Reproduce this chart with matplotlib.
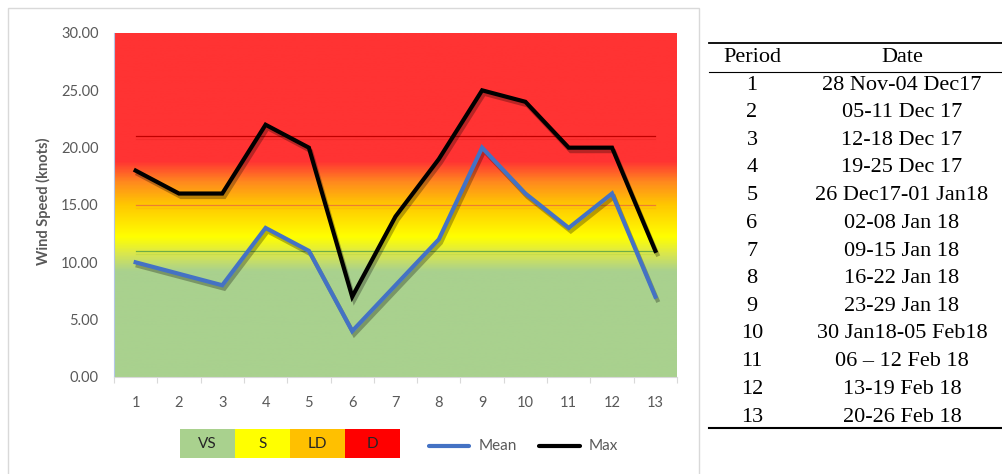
import numpy as np
import matplotlib
matplotlib.use("Agg")
import matplotlib.pyplot as plt
import matplotlib.patheffects as pe
from matplotlib.colors import LinearSegmentedColormap
from matplotlib.patches import Rectangle
from matplotlib.lines import Line2D

periods = list(range(1, 14))
mean_speed = [10, 9, 8, 13, 11, 4, 8, 12, 20, 16, 13, 16, 7]
max_speed = [18, 16, 16, 22, 20, 7, 14, 19, 25, 24, 20, 20, 11]
y_ticks = [0, 5, 10, 15, 20, 25, 30]

# threshold levels drawn across the chart
levels = [11, 15, 21]
level_colors = ["#70AD47", "#ED7D31", "#C00000"]

zone_labels = ["VS", "S", "LD", "D"]
zone_colors = ["#A9D18E", "#FFFF00", "#FFC000", "#FF0000"]

dates = ["28 Nov-04 Dec17", "05-11 Dec 17", "12-18 Dec 17", "19-25 Dec 17",
         "26 Dec17-01 Jan18", "02-08 Jan 18", "09-15 Jan 18", "16-22 Jan 18",
         "23-29 Jan 18", "30 Jan18-05 Feb18", "06 \u2013 12 Feb 18",
         "13-19 Feb 18", "20-26 Feb 18"]

W, H = 1002, 474
fig = plt.figure(figsize=(W / 100, H / 100), dpi=100)
fig.patch.set_facecolor("white")


def fx(px):
    return px / W


def fy(py):
    return 1 - py / H


grey = "#595959"
font = "Lato"

# outer chart frame
fig.add_artist(Rectangle((fx(8), fy(480)), fx(699 - 8), fy(8) - fy(480),
                         transform=fig.transFigure, fill=False,
                         edgecolor="#D9D9D9", lw=1))

ax = fig.add_axes([fx(114), fy(377), fx(677 - 114), fy(33) - fy(377)])

# background gradient, green at the bottom up to red at the top
ymax = 30.0
stops = [(0.0, "#A9D18E"), (9.2 / ymax, "#A9D18E"), (10.8 / ymax, "#DCE84A"),
         (12.2 / ymax, "#FFFF00"), (15.0 / ymax, "#FFC800"),
         (17.0 / ymax, "#FF8A1E"), (18.8 / ymax, "#FF3333"), (1.0, "#FF3333")]
cmap = LinearSegmentedColormap.from_list("zones", stops)
grad = np.linspace(0, 1, 600).reshape(-1, 1)
ax.imshow(grad, cmap=cmap, origin="lower", aspect="auto",
          extent=[0.5, 13.5, 0, ymax], zorder=0)

for lv, c in zip(levels, level_colors):
    ax.plot([periods[0], periods[-1]], [lv, lv], color=c, lw=0.9, zorder=1,
            path_effects=[pe.SimpleLineShadow(offset=(0, -2), alpha=0.15,
                                              shadow_color=c), pe.Normal()])

shadow = [pe.SimpleLineShadow(offset=(1.5, -2.5), alpha=0.28, shadow_color="k"),
          pe.Normal()]
ax.plot(periods, mean_speed, color="#4472C4", lw=3, zorder=3,
        solid_joinstyle="miter", path_effects=shadow)
ax.plot(periods, max_speed, color="black", lw=3, zorder=4,
        solid_joinstyle="miter", path_effects=shadow)

ax.set_xlim(0.5, 13.5)
ax.set_ylim(0, ymax)
ax.set_yticks(y_ticks)
ax.set_yticklabels([f"{v:.2f}" for v in y_ticks])
ax.set_xticks(periods)
ax.set_xticklabels([str(p) for p in periods])
ax.set_xticks(np.arange(0.5, 14, 1), minor=True)
ax.tick_params(axis="y", length=0, pad=11, labelsize=10.5, labelcolor=grey)
ax.tick_params(axis="x", which="major", length=0, pad=14, labelsize=10.5,
               labelcolor=grey)
ax.tick_params(axis="x", which="minor", length=4, width=0.8, color="#D9D9D9")
for lab in ax.get_xticklabels() + ax.get_yticklabels():
    lab.set_fontfamily(font)
for s in ["top", "right"]:
    ax.spines[s].set_visible(False)
ax.spines["left"].set_color("#B4C7E7")
ax.spines["left"].set_linewidth(0.8)
ax.spines["bottom"].set_color("#D9D9D9")
ax.spines["bottom"].set_linewidth(0.8)

fig.text(fx(43), fy(201), "Wind Speed (knots)", rotation=90, ha="center",
         va="center", fontsize=10.5, fontweight="bold", color=grey,
         family=font)

# zone legend boxes
bx0, bw, by0, by1 = 180, 55, 429, 458
for i, (lab, c) in enumerate(zip(zone_labels, zone_colors)):
    x0 = bx0 + i * bw
    fig.add_artist(Rectangle((fx(x0), fy(by1)), fx(bw), fy(by0) - fy(by1),
                             transform=fig.transFigure, facecolor=c,
                             edgecolor="none"))
    fig.text(fx(x0 + bw / 2), fy((by0 + by1) / 2), lab, ha="center",
             va="center", fontsize=11, color="#262626", family=font)

# series legend
for (x0, x1, tx, lab, c) in [(429, 469, 479, "Mean", "#4472C4"),
                             (539, 580, 589, "Max", "black")]:
    fig.add_artist(Line2D([fx(x0), fx(x1)], [fy(446), fy(446)],
                          transform=fig.transFigure, color=c, lw=3,
                          solid_capstyle="round"))
    fig.text(fx(tx), fy(446), lab, ha="left", va="center", fontsize=11,
             color=grey, family=font)

# period / date table
serif = "Liberation Serif"
tsize = 16
tx0, tx1 = 709, 1002
col_p, col_d = 752, 902
fig.add_artist(Line2D([fx(tx0), fx(tx1)], [fy(43), fy(43)],
                      transform=fig.transFigure, color="black", lw=1.3))
fig.add_artist(Line2D([fx(tx0), fx(tx1)], [fy(72), fy(72)],
                      transform=fig.transFigure, color="black", lw=0.8))
fig.add_artist(Line2D([fx(tx0), fx(tx1)], [fy(428), fy(428)],
                      transform=fig.transFigure, color="black", lw=1.5))
fig.text(fx(col_p), fy(58), "Period", ha="center", va="center",
         fontsize=tsize, family=serif)
fig.text(fx(col_d), fy(58), "Date", ha="center", va="center",
         fontsize=tsize, family=serif)
row_h = (417 - 85) / 12
for i, (p, d) in enumerate(zip(periods, dates)):
    yy = 85 + i * row_h
    fig.text(fx(col_p), fy(yy), str(p), ha="center", va="center",
             fontsize=tsize, family=serif)
    fig.text(fx(col_d), fy(yy), d, ha="center", va="center",
             fontsize=tsize, family=serif)

fig.savefig("out.png", dpi=100, facecolor="white")
